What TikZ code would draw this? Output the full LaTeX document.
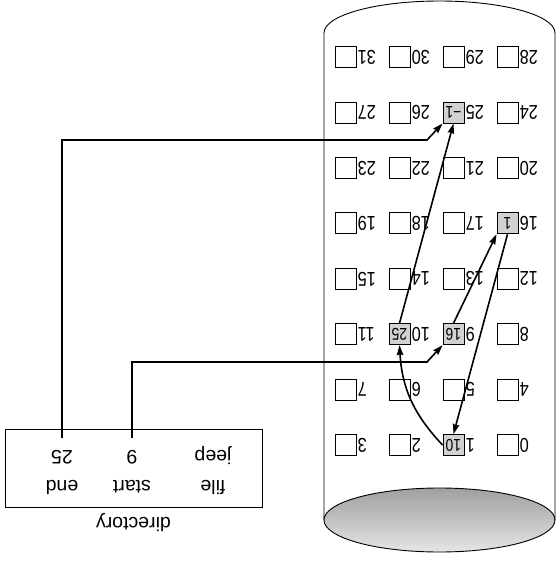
\documentclass[tikz,border=0pt]{standalone}
\usepackage{fontspec}
\setmainfont{Liberation Sans}
\newfontfamily\narrowfont[FakeStretch=0.82]{Liberation Sans}
\usetikzlibrary{arrows.meta,calc}

\begin{document}
\begin{tikzpicture}[x=1pt, y=1pt, rotate=180, transform shape,
    blk/.style={draw, line width=0.9pt, minimum size=21pt, inner sep=0pt},
    used/.style={blk, fill=gray!35, font=\narrowfont\fontsize{17}{17}\selectfont},
    num/.style={anchor=east, inner sep=1pt, font=\narrowfont\fontsize{20}{20}\selectfont},
    link/.style={line width=1.6pt, -{Stealth[length=10pt, width=6.5pt, inset=1pt]}},
    dtext/.style={font=\fontsize{19.5}{19.5}\selectfont, text height=14pt, text depth=4pt, inner xsep=0pt, inner ysep=8pt}]
    \useasboundingbox (0,0) rectangle (559,563);

    % disk: walls, lower rim and the shaded top face
    \draw[line width=0.9pt] (4,520) -- (4,33)
        arc[start angle=180, end angle=360, x radius=115.5, y radius=32] -- (235,520);
    \draw[line width=0.9pt, top color=gray!75, bottom color=gray!20]
        (119.5,520) ellipse [x radius=115.5, y radius=32];

    % blocks 0..31, four to a row
    \foreach \i in {0,...,31} {
        \pgfmathtruncatemacro{\c}{mod(\i,4)}
        \pgfmathtruncatemacro{\r}{\i/4}
        \node[blk] (b\i) at (51.5+54*\c, 445-55.4*\r) {};
        \node[num] (n\i) at (b\i.west) {\i};
    }
    % blocks of jeep with their next pointers
    \foreach \b/\nxt in {1/10, 9/16, 16/1, 10/25, 25/−1}
        \node[used] (f\b) at (b\b) {\nxt};

    % directory entry
    \node[draw, line width=0.8pt, minimum width=257pt, minimum height=78pt] (dir) at (425.5,468) {};
    \node[dtext] (dircap) at ($(dir.north)+(0,15)$) {directory};
    \node[dtext] (hfile) at (346,485) {file};
    \node[dtext] (hstart) at (427,485) {start};
    \node[dtext] (hend) at (497,485) {end};
    \node[dtext] (vfile) at (346,455) {jeep};
    \node[dtext] (vstart) at (427,455) {9};
    \node[dtext] (vend) at (497,455) {25};

    % pointers from the directory
    \coordinate (sbend) at (132,362);
    \coordinate (ebend) at (132,140);
    \draw[link] (vstart.south) |- (sbend) -- (f9.north east);
    \draw[link] (vend.south) |- (ebend) -- (f25.north east);

    % chain 9 -> 16 -> 1 -> 10 -> 25
    \draw[link] (f9.south) -- (f16.north east);
    \draw[link] (f16.north) -- (f1.south);
    \draw[link] (f1.east) to[bend left=20] (f10.north);
    \draw[link] (f10.south) -- (f25.north);
\end{tikzpicture}
\end{document}
